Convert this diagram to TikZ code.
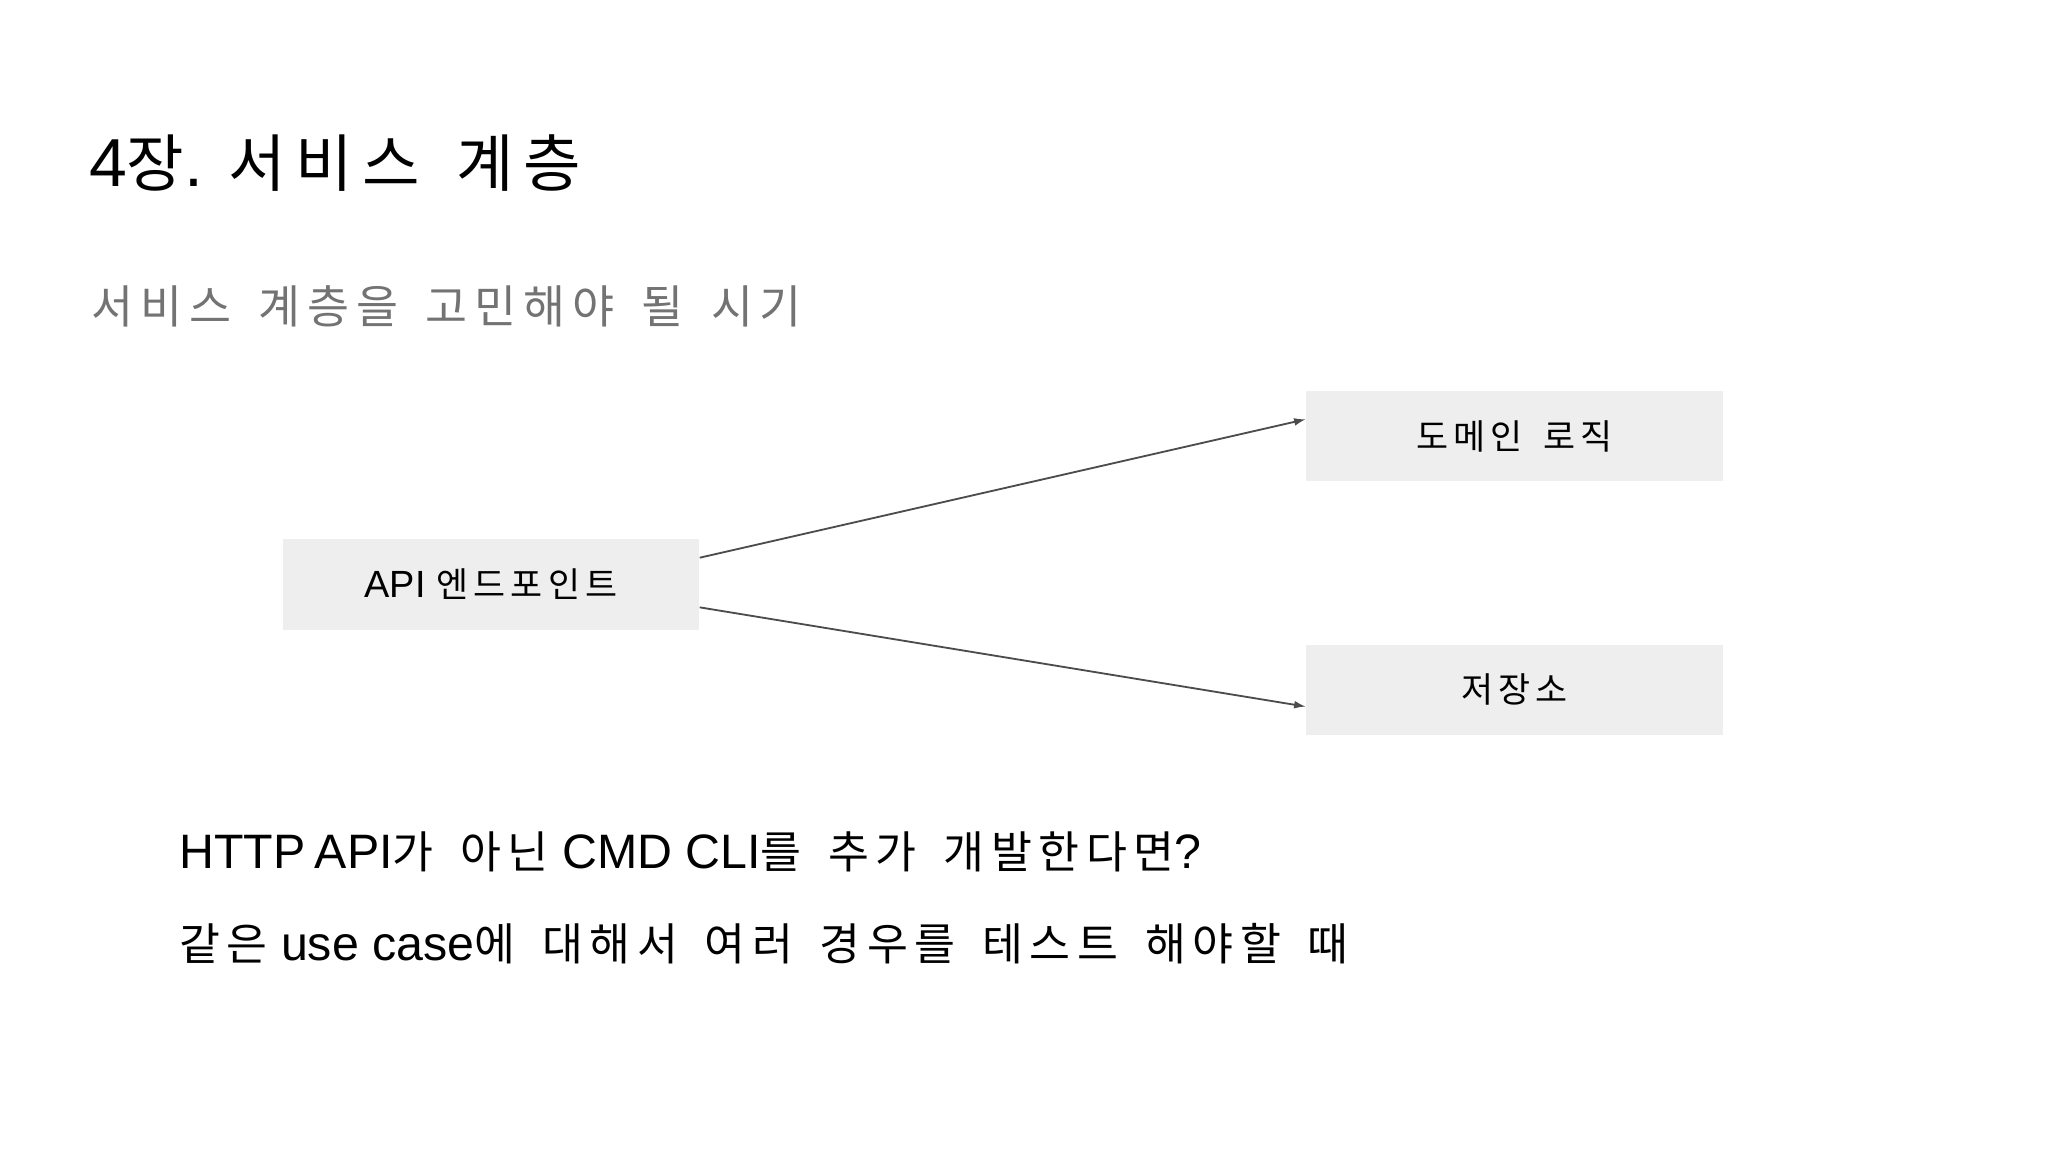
\documentclass[tikz,border=0pt]{standalone}
\usepackage{fontspec}
\setmainfont{Liberation Sans}
\newfontfamily\ko{Noto Sans CJK KR}[Scale=0.92,LetterSpace=15,WordSpace=1.6]
\usetikzlibrary{arrows.meta}
\begin{document}
\begin{tikzpicture}[x=1pt,y=-1pt,
  box/.style={fill=black!6.5,minimum width=319pt,minimum height=69pt,inner sep=0pt,font=\fontsize{29}{34}\selectfont},
  conn/.style={draw=black!70,line width=1.4pt,-{Latex[length=9pt,width=6pt]}},
  txt/.style={anchor=base west,inner sep=0pt}]
\useasboundingbox (0,0) rectangle (1568,882);
\node[txt,font=\fontsize{52}{60}\selectfont] (title) at (68,143) {4{\ko 장}. {\ko 서비스 계층}};
\node[txt,font=\fontsize{38}{44}\selectfont,text=black!55] (sub) at (70,248) {\ko 서비스 계층을 고민해야 될 시기};
\node[box] (api) at (376,447.5) {API {\ko 엔드포인트}};
\node[box] (dom) at (1159.5,334) {\ko 도메인 로직};
\node[box] (rep) at (1159.5,528) {\ko 저장소};
\draw[conn] (api.east |- 0,427) -- (dom.west |- 0,321);
\draw[conn] (api.east |- 0,465) -- (rep.west |- 0,541);
\node[txt,font=\fontsize{37}{42}\selectfont] (l1) at (137,665) {HTTP\kern-3pt{} API{\ko 가 아닌} CMD CLI{\ko 를 추가 개발한다면}?};
\node[txt,font=\fontsize{37}{42}\selectfont] (l2) at (137,735) {{\ko 같은} use case{\ko 에 대해서 여러 경우를 테스트 해야할 때}};
\end{tikzpicture}
\end{document}
